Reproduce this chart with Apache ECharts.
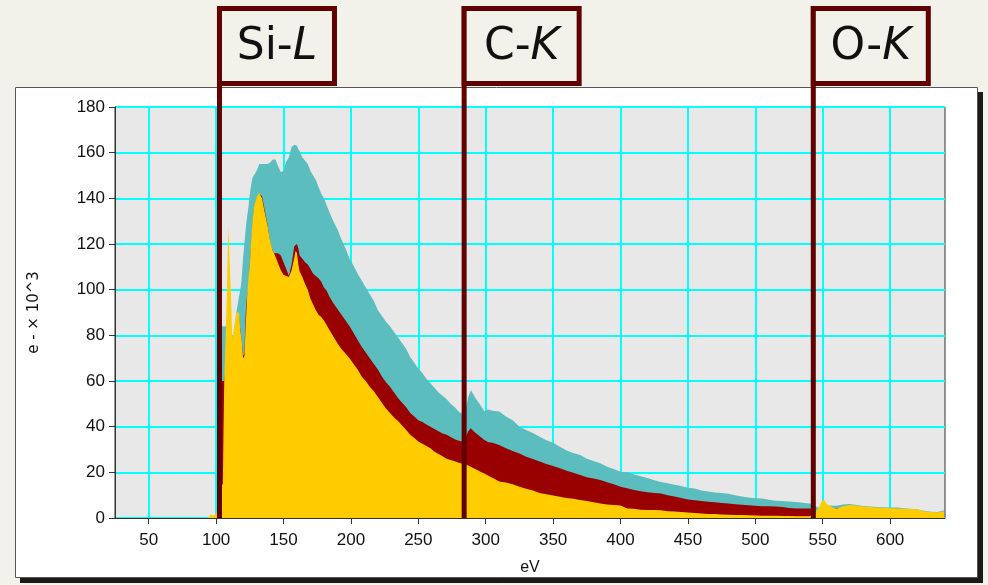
<!DOCTYPE html>
<html><head><meta charset="utf-8">
<script src="https://cdn.jsdelivr.net/npm/echarts@6/dist/echarts.min.js"></script>
<style>html,body{margin:0;padding:0;background:#f3f2ea;}#c{width:988px;height:585px;}</style>
</head><body><div id="c"></div>
<script>
// ---- data ----
const energies = [25,94,96,98,100,101,103,104,105,106,107,108,109,110,111,112,113,115,117,118,119,120,121,122,123,124,125,126,127,128,130,132,134,136,138,140,142,143,144,146,148,150,152,154,156,158,159,160,161,162,164,166,168,170,172,174,176,178,180,182,184,187,190,193,196,199,202,205,208,211,214,217,220,223,226,229,232,235,238,241,244,247,250,253,256,259,262,265,268,271,274,277,280,283,285,287,289,291,293,296,299,302,305,310,315,320,325,330,335,340,345,350,355,360,365,370,375,380,385,390,395,400,405,410,415,420,425,430,435,440,445,450,455,460,465,470,475,480,485,490,495,500,505,510,515,520,525,530,535,540,543,545,547,549,551,553,555,558,561,565,570,575,580,585,590,595,600,605,610,615,620,625,630,635,640];
const totalSignal = [0,0,0,0,0,1,60,84,84,84,84,84,84,80,78,78,80,90,97,100,105,114,120,127,132,136,142,146,149,150,152,155,155,155,155,155.6,157,157.5,157,154,151.5,152,156,158,162.5,163.5,163.8,163,161.5,160.5,158,156.5,155,152,150,148,145,142,140,137,134,130,126.5,122,118,113.5,110.5,107,104,101,98,95,91,88.5,86,84,81.5,79,76.5,74,70.5,68,65.5,63.5,61,59,57,55,53.5,52,50,48.5,46.5,45.5,47,53,56,54,52,49.5,46.6,47.5,47,46.6,44.5,42.8,40,38.5,37.2,35.6,34,33,31.2,29.6,28.5,27.6,26,25,24,22.5,21.5,20.3,20,19,18.3,17.5,16.5,15.8,15.2,14.6,14,13.3,12.9,12,11.6,11.2,11,10.6,10,9.4,9,8.7,8.5,8,7.6,7.4,7.2,7,6.7,6.4,6.2,5,4.5,4.5,5,5,5.5,5.4,5.5,5.9,6.1,5.7,5.3,5,4.8,4.7,4.6,4.6,4.3,4,3.8,3.2,2.7,2.6,3.3];
const midSignal = [0,0,0,0,0,1,40,60,60,60,60,70,80,78,76,76,76,85,88,82,78,71,72,90,98,100,110,120,128,135,140,142,141,135,129,121,117,116,116,116,115,112,109,106,111,119,119.5,120,118,115,113.5,112,111,109,107,106,105,103.5,101,99.5,97,94,91.5,89,86.5,84,81,78,75,72.5,70,67.5,65,62,59.5,57.5,55,52.5,50.5,48.5,46,44.5,42.8,42,41,40,39,38,37,36.5,35.5,34.5,33.8,33.4,35,38,39.3,38,37,35.6,34.2,33.2,33,32,30.5,29.3,28.3,26.8,25.8,24.7,23.6,22.8,21.8,20.7,19.8,18.8,17.8,17.3,16.6,15.7,14.8,13.7,13,12.3,11.7,11.3,11,10.7,10,9.4,8.8,8.1,7.8,7.5,7.1,6.9,6.6,6.3,6,5.8,5.6,5.4,5.2,5.1,5,4.8,4.4,4.2,4.2,4.2,4,2.5,2.5,3,3,3,3,4.4,4.3,3.5,3.5,3.5,3.5,3.5,3.5,3.5,3.4,3.4,3.3,3.2,3.1,2.6,2.2,2.2,2.4];
const innerSignal = [0,0,1.5,1,2,1.5,10,14,15,59,59,98,128,128,98,78,78,90,90,82,78,70,71,85,97,105,111,122,130,136,140.5,142.5,140,134,128.5,121.5,117,116,114.5,111.5,108.5,106.5,106,105.5,108.5,114,117,116,111,108,105.5,102.5,100,96,93.5,91,89,88,86.5,84.5,82.5,79.5,76.5,74,72,70,67.5,65,62,60,57.5,55.5,53,50.5,48,46,44,42.5,40.5,38.5,36.5,35,33.5,32.5,31.5,30.5,29,28,27,26,25.4,24.8,24.2,23.8,23.5,23,22.5,21.8,21.2,20.3,19.5,18.5,17.6,16,15.5,14.8,13.7,12.8,12,10.9,10.4,9.9,9.3,8.8,8.4,7.9,7.4,6.9,6.4,5.9,5.7,5.5,4.2,4,3.6,3.5,3.5,3.4,3,2.8,2.6,2.4,2.2,2,1.8,1.7,1.5,1.4,1.3,1.3,1.2,1.1,1,1,1,0.9,0.9,0.8,0.8,0.8,1.5,3,4.5,7,8,6,5.5,4.4,4.2,5.2,5.7,5.5,5,4.8,4.6,4.5,4.3,4.2,4,3.9,3.8,3,2.6,2.5,2.8];
const xTickValues = [50,100,150,200,250,300,350,400,450,500,550,600];
const xMin = 25, xMax = 640.7;
const yMin = 0, yMax = 180, yStep = 20;
const edgeEnergies = [102.5, 284, 543];
const edgeElements = ['Si-', 'C-', 'O-'];
const edgeShells = ['L', 'K', 'K'];

const pairs = arr => energies.map((e, i) => [e, arr[i]]);
const chart = echarts.init(document.getElementById('c'), null, {renderer: 'canvas'});
const axisFont = {fontFamily: 'Liberation Sans', fontSize: 17, color: '#111'};
const areaSeries = (name, arr, color) => ({
  name, type: 'line', data: pairs(arr), showSymbol: false, symbol: 'none',
  lineStyle: {width: 0, color}, itemStyle: {color}, areaStyle: {color, opacity: 1},
  animation: false, silent: true
});
chart.setOption({
  backgroundColor: '#f3f2ea',
  animation: false,
  grid: {left: 115, right: 43, top: 107, bottom: 67, show: true,
         backgroundColor: '#e8e8e8', borderColor: '#333', borderWidth: 1},
  xAxis: {
    type: 'value', min: xMin, max: xMax,
    name: 'eV', nameLocation: 'middle', nameGap: 42,
    nameTextStyle: {fontFamily: 'Liberation Sans', fontSize: 16, color: '#111'},
    axisLine: {show: true, onZero: false, lineStyle: {color: '#333', width: 1}},
    axisTick: {show: true, customValues: xTickValues, length: 6, lineStyle: {color: '#333'}},
    axisLabel: Object.assign({customValues: xTickValues, margin: 14}, axisFont),
    splitLine: {show: true, lineStyle: {color: '#00ffff', width: 2}}
  },
  yAxis: {
    type: 'value', min: yMin, max: yMax, interval: yStep,
    name: 'e - × 10^3', nameLocation: 'middle', nameGap: 73, nameRotate: 90,
    nameTextStyle: {fontFamily: 'DejaVu Sans', fontSize: 15, color: '#111'},
    axisLine: {show: true, lineStyle: {color: '#333', width: 1}},
    axisTick: {show: true, length: 6, lineStyle: {color: '#333'}},
    axisLabel: Object.assign({margin: 10}, axisFont),
    splitLine: {show: true, lineStyle: {color: '#00ffff', width: 2}}
  },
  series: [
    areaSeries('total', totalSignal, '#5bbdbd'),
    areaSeries('mid', midSignal, '#990000'),
    areaSeries('inner', innerSignal, '#ffcc00')
  ]
});

// annotation boxes & edge lines, positioned via the axis scale
const baseY = chart.convertToPixel({yAxisIndex: 0}, 0);
const graphics = [
  {type: 'rect', z: -20, shape: {x: 20, y: 92, width: 963, height: 491}, style: {fill: '#1a1a1a'}},
  {type: 'rect', z: -19, shape: {x: 15.5, y: 87.5, width: 962, height: 490}, style: {fill: '#ffffff', stroke: '#555', lineWidth: 1}}
];
edgeEnergies.forEach((e, i) => {
  const px = chart.convertToPixel({xAxisIndex: 0}, e);
  graphics.push({type: 'rect', z: 100, shape: {x: px - 2.5, y: 6, width: 5, height: baseY - 6}, style: {fill: '#600000'}});
  graphics.push({type: 'rect', z: 101, shape: {x: px, y: 8.5, width: 115, height: 75}, style: {fill: '#f3f2ea', stroke: '#600000', lineWidth: 5}});
  graphics.push({type: 'text', z: 102, x: px + 57.5, y: 48,
    style: {text: '{n|' + edgeElements[i] + '}{i|' + edgeShells[i] + '}', align: 'center', verticalAlign: 'middle',
      rich: {n: {fontFamily: 'DejaVu Sans', fontSize: 44, fill: '#111'},
             i: {fontFamily: 'DejaVu Sans', fontSize: 44, fontStyle: 'italic', fill: '#111'}}}});
});
chart.setOption({graphic: graphics});
</script></body></html>
